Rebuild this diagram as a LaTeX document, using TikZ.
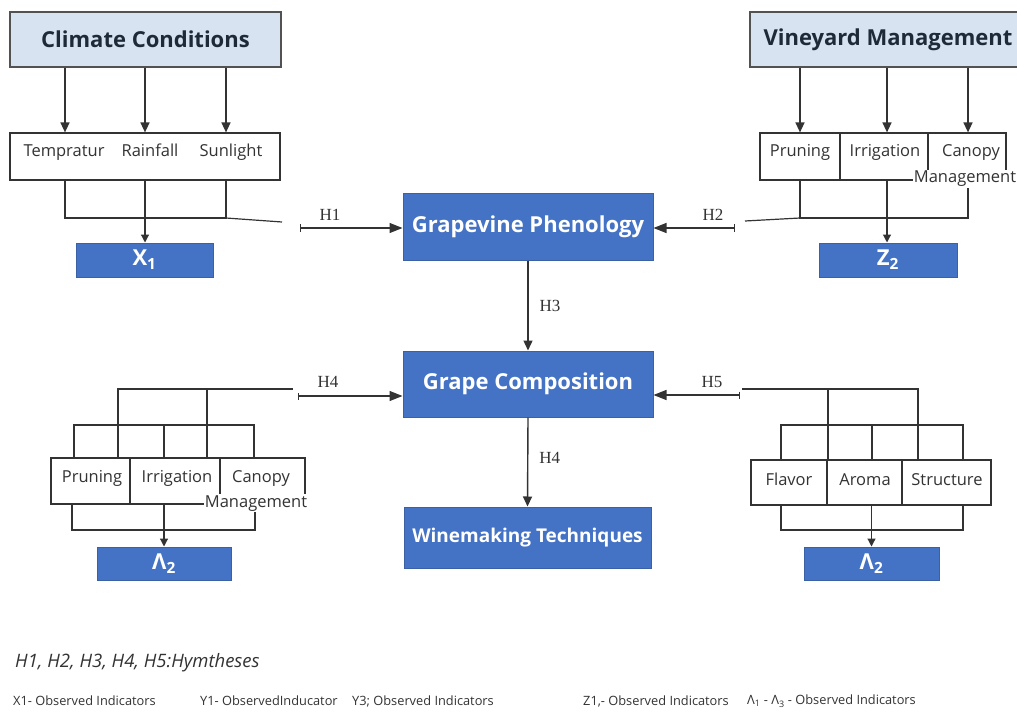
\documentclass[tikz,border=0pt]{standalone}
\usepackage{fontspec}
\setmainfont{Open Sans}
\newfontfamily\seriffont{Liberation Serif}
\usetikzlibrary{arrows.meta,calc}
\definecolor{lb}{HTML}{D7E3F1}
\definecolor{db}{HTML}{4472C4}
\definecolor{dbb}{HTML}{3A60A6}
\definecolor{ln}{HTML}{333333}
\definecolor{tt}{HTML}{1E2A38}
\tikzset{
  titlebox/.style={draw=ln!85, fill=lb, line width=1.4pt, text=tt, inner sep=0pt,
    font=\fontsize{22}{26}\selectfont\bfseries},
  bluebox/.style={draw=dbb, fill=db, line width=1pt, text=white, inner sep=0pt,
    font=\fontsize{22}{26}\selectfont\bfseries},
  cell/.style={draw=ln, line width=1.2pt, inner sep=0pt},
  lab/.style={inner sep=0pt, text=ln, text height=12pt, text depth=4pt,
    font=\fontsize{16.5}{19}\selectfont},
  mg/.style={lab, fill=white, inner sep=1pt},
  hl/.style={inner sep=0pt, text=ln, font=\seriffont\fontsize{17}{20}\selectfont},
  lnk/.style={draw=ln, line width=1.2pt},
  arrS/.style={lnk, line width=1.4pt, -{Triangle[length=10pt,width=9pt]}},
  arrT/.style={lnk, -{Triangle[length=8pt,width=8pt]}},
  arrH/.style={lnk, {Bar[width=7pt]}-{Triangle[length=13pt,width=10pt]}},
  leg/.style={inner sep=0pt, anchor=west, text=ln, font=\fontsize{12.8}{15}\selectfont},
}
\begin{document}
\begin{tikzpicture}[x=1pt,y=-1pt]
\clip (0,0) rectangle (1017,714);
\fill[white] (0,0) rectangle (1017,714);

% ---------- top left: climate ----------
\node[titlebox, minimum width=271pt, minimum height=55pt] (cc) at (145.5,39.5) {Climate Conditions};
\node[cell, minimum width=270pt, minimum height=47pt] (cs) at (145,156.5) {};
\node[lab] (t1) at (64,153) {Tempratur};
\node[lab] (t2) at (150,153) {Rainfall};
\node[lab] (t3) at (231,153) {Sunlight};
\coordinate (ca1) at (65,0);
\coordinate (ca2) at (145,0);
\coordinate (ca3) at (226,0);
\draw[arrS] (cc.south -| ca1) -- (cs.north -| ca1);
\draw[arrS] (cc.south -| ca2) -- (cs.north -| ca2);
\draw[arrS] (cc.south -| ca3) -- (cs.north -| ca3);
\node[bluebox, minimum width=137pt, minimum height=34pt] (x1) at (144.5,260) {X\textsubscript{1}};
\coordinate (cb1) at (65,218);
\coordinate (cb3) at (226,218);
\coordinate (cbe) at (282,222);
\draw[lnk] (cs.south -| ca1) -- (cb1) -- (cb3) -- (cs.south -| ca3);
\draw[lnk] (cb3) -- (cbe);
\draw[arrT] (cs.south -| ca2) -- (x1.north -| ca2);

% ---------- top right: vineyard ----------
\node[titlebox, minimum width=276pt, minimum height=55pt] (vm) at (888,39.5) {Vineyard Management};
\node[cell, minimum width=80pt, minimum height=47pt] (vp) at (800,156.5) {};
\node[cell, minimum width=88pt, minimum height=47pt] (vi) at (884,156.5) {};
\node[cell, minimum width=78pt, minimum height=47pt] (vc) at (967,156.5) {};
\coordinate (va1) at (800,0);
\coordinate (va2) at (887,0);
\coordinate (va3) at (968,0);
\draw[arrS] (vm.south -| va1) -- (vp.north -| va1);
\draw[arrS] (vm.south -| va2) -- (vi.north -| va2);
\draw[arrS] (vm.south -| va3) -- (vc.north -| va3);
\node[bluebox, minimum width=138pt, minimum height=34pt] (z2) at (888,260) {Z\textsubscript{2}};
\coordinate (vb1) at (800,218);
\coordinate (vb3) at (968,218);
\coordinate (vbe) at (745,221);
\draw[lnk] (vp.south -| va1) -- (vb1) -- (vb3) -- (vc.south -| va3);
\draw[lnk] (vb1) -- (vbe);
\draw[arrT] (vi.south -| va2) -- (z2.north -| va2);
\node[lab] (v1) at (800,153) {Pruning};
\node[lab] (v2) at (885,153) {Irrigation};
\node[lab] (v3) at (971,153) {Canopy};
\node[mg] (v4) at (965,179) {Management};

% ---------- centre ----------
\node[bluebox, minimum width=250pt, minimum height=66pt] (gp) at (528,227) {Grapevine Phenology};
\node[bluebox, minimum width=250pt, minimum height=66pt] (gc) at (528,384) {Grape Composition};
\node[bluebox, minimum width=247pt, minimum height=61pt, font=\fontsize{19}{22}\selectfont\bfseries] (wt) at (527.5,537.5) {Winemaking Techniques};
\draw[arrS] (gp.south) -- (gc.north) node[hl, pos=0.5, xshift=22pt] {H3};
\draw[arrS] (gc.south) -- (wt.north) node[hl, pos=0.45, xshift=22pt] {H4};

\coordinate (h1s) at (300,228);
\draw[arrH] (h1s) -- (gp.west |- h1s);
\node[hl] (h1) at (330,215) {H1};
\coordinate (h2s) at (735,228);
\draw[arrH] (h2s) -- (gp.east |- h2s);
\node[hl] (h2) at (713,215) {H2};
\coordinate (h4s) at (298,396);
\draw[arrH] (h4s) -- (gc.west |- h4s);
\node[hl] (h4) at (328,382) {H4};
\coordinate (h5s) at (740,395);
\draw[arrH] (h5s) -- (gc.east |- h5s);
\node[hl] (h5) at (712,382) {H5};

% ---------- bottom left ----------
\node[cell, minimum width=79pt, minimum height=46pt] (lp) at (90.5,481) {};
\node[cell, minimum width=90pt, minimum height=46pt] (li) at (175,481) {};
\node[cell, minimum width=85pt, minimum height=46pt] (lc) at (262.5,481) {};
\coordinate (lt1) at (118,389);
\coordinate (lt2) at (207,389);
\coordinate (lte) at (293,389);
\draw[lnk] (lp.north -| lt1) -- (lt1) -- (lte);
\draw[lnk] (lt2) -- (li.north -| lt2);
\coordinate (ls1) at (74,425);
\coordinate (ls2) at (164,425);
\coordinate (ls3) at (254,425);
\draw[lnk] (lp.north -| ls1) -- (ls1) -- (ls3) -- (lc.north -| ls3);
\draw[lnk] (ls2) -- (li.north -| ls2);
\node[bluebox, minimum width=134pt, minimum height=33pt] (l1) at (164,563.5) {Λ\textsubscript{2}};
\coordinate (lb1) at (72,530);
\coordinate (lb3) at (255,530);
\draw[lnk] (lp.south -| lb1) -- (lb1) -- (lb3) -- (lc.south -| lb3);
\draw[arrT] (li.south -| l1.north) -- (l1.north);
\node[lab] at (92,478) {Pruning};
\node[lab] at (177,478) {Irrigation};
\node[lab] at (261,478) {Canopy};
\node[mg] at (256,503) {Management};

% ---------- bottom right ----------
\node[cell, minimum width=76pt, minimum height=45pt] (rf) at (789,482.5) {};
\node[cell, minimum width=75pt, minimum height=45pt] (ra) at (864.5,482.5) {};
\node[cell, minimum width=89pt, minimum height=45pt] (rs) at (946.5,482.5) {};
\coordinate (rt0) at (742,389);
\coordinate (rt1) at (828,389);
\coordinate (rt2) at (918,389);
\draw[lnk] (rt0) -- (rt2) -- (rs.north -| rt2);
\draw[lnk] (rt1) -- (rf.north -| rt1);
\coordinate (rs1) at (781,425);
\coordinate (rs2) at (872,425);
\coordinate (rs3) at (963,425);
\draw[lnk] (rf.north -| rs1) -- (rs1) -- (rs3) -- (rs.north -| rs3);
\draw[lnk] (rs2) -- (ra.north -| rs2);
\node[bluebox, minimum width=135pt, minimum height=33pt] (l2) at (871.5,563.5) {Λ\textsubscript{2}};
\coordinate (rb1) at (781,530);
\coordinate (rb3) at (963,530);
\draw[lnk] (rf.south -| rb1) -- (rb1) -- (rb3) -- (rs.south -| rb3);
\draw[arrT] (ra.south -| l2.north) -- (l2.north);
\node[lab] at (789,481) {Flavor};
\node[lab] at (865,481) {Aroma};
\node[lab] at (947,481) {Structure};

% ---------- legend ----------
\node[leg, font=\fontsize{18.5}{22}\selectfont\itshape] (lg0) at (15,663) {H1, H2, H3, H4, H5:Hymtheses};
\node[leg] (lg1) at (13,701) {X1- Observed Indicators};
\node[leg] (lg2) at (200,701) {Y1- ObservedInducator};
\node[leg] (lg3) at (352,701) {Y3; Observed Indicators};
\node[leg] (lg4) at (583,701) {Z1,- Observed Indicators};
\node[leg] (lg5) at (747,701) {Λ\textsubscript{1} - Λ\textsubscript{3} - Observed Indicators};
\end{tikzpicture}
\end{document}
